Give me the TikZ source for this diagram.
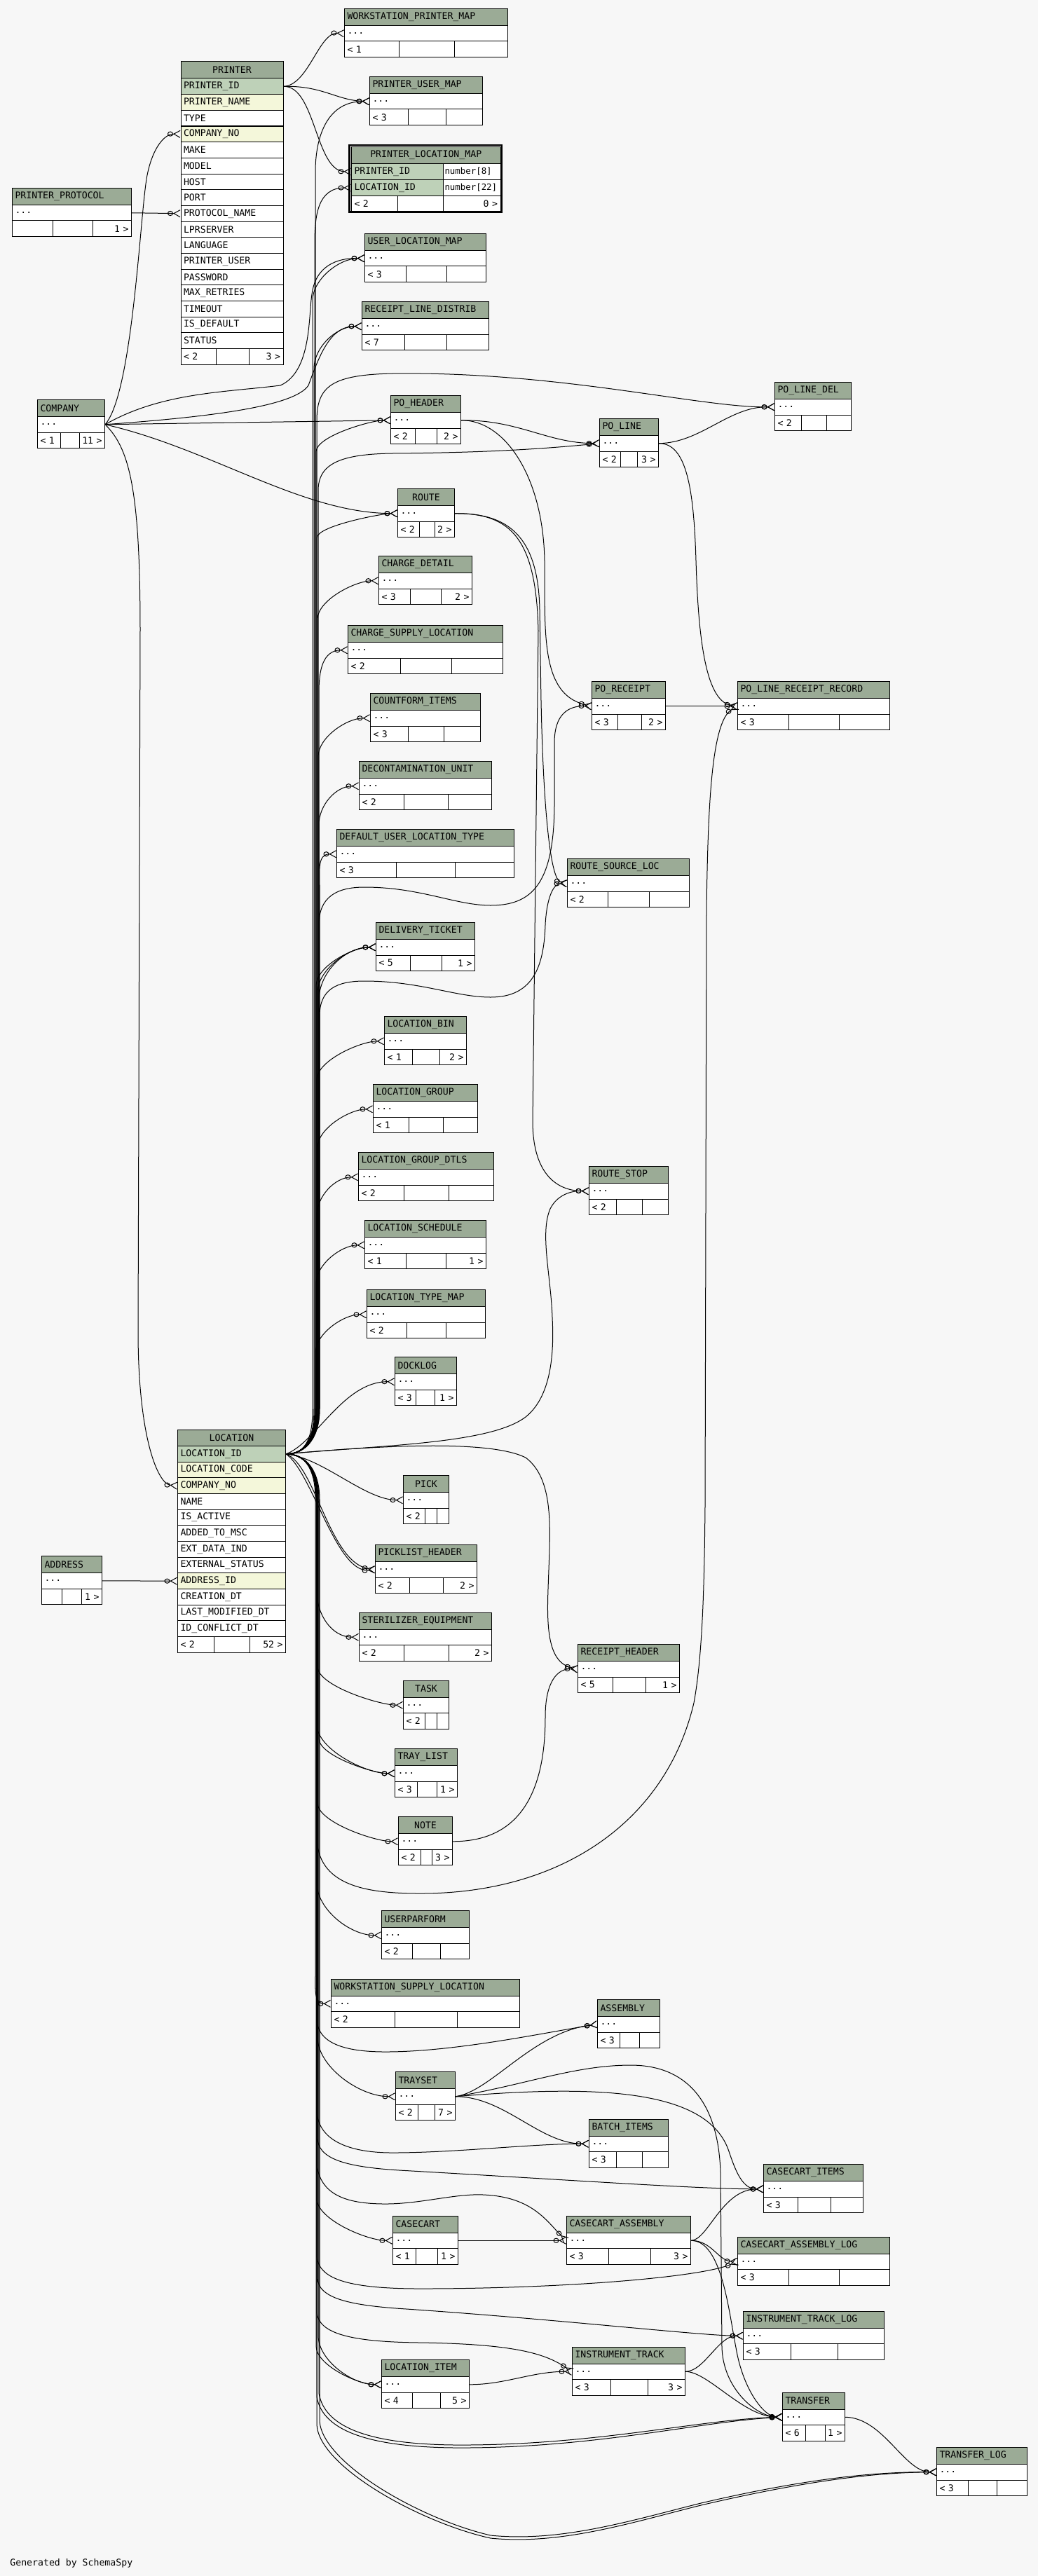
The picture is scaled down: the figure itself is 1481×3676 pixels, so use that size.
\documentclass[tikz,border=0pt]{standalone}
\usepackage{fontspec}
\setmainfont{DejaVu Sans Mono}
\usetikzlibrary{arrows.meta,calc}

\definecolor{hdr}{HTML}{9BAB96}
\definecolor{pk}{HTML}{BED1B8}
\definecolor{idx}{HTML}{F4F7DA}
\definecolor{bg}{HTML}{F7F7F7}

\newcommand\tabfont{\fontsize{6.6}{7.9}\selectfont}

% small table: name, x1, y1, x2, title, parents, children, divider 1, divider 2
\newcommand\maketab[9]{%
  \node[cell, fill=hdr, hw={#4-#2}, minimum height=12pt, ttl] (#1-h) at (#2,#3) {#5};
  \node[cell, fill=white, hw={#4-#2}] (#1) at (#2,#3+24) {...};
  \node[cell, fill=white, hw={#8-#2}] (#1-l) at (#2,#3+46.5) {#6};
  \node[cell, fill=white, hw={#9-#8}] (#1-m) at (#8,#3+46.5) {};
  \node[cell, fill=white, hw={#4-#9}] (#1-r) at (#9,#3+46.5) {\makebox[\linewidth][r]{#7}};
}
\newcommand\tabl{\tikzset{ttl/.style={align=left}}\maketab}
\newcommand\tablc{\tikzset{ttl/.style={align=center}}\maketab}

% LOCATION_ID up / down the bundle
\newcommand\upedge[3]{\draw[rel] (loc-1.east) .. controls +(30,0) and +(0,40) .. (#2,2010)
  -- ($(#2,0 |- #1.west)+(0,#3)$) .. controls +(0,-0.5*#3) and +(-0.6*#3,0) .. (#1.west);}
\newcommand\downedge[3]{\draw[rel] (loc-1.east) .. controls +(30,0) and +(0,-40) .. (#2,2140)
  -- ($(#2,0 |- #1.west)+(0,-#3)$) .. controls +(0,0.5*#3) and +(-0.6*#3,0) .. (#1.west);}

\begin{document}
\begin{tikzpicture}[
    x=0.5pt, y=-0.5pt,
    cell/.style={draw, line width=0.5pt, anchor=north west, inner xsep=2pt,
                 inner ysep=0pt, minimum height=11.25pt, font=\tabfont, align=left},
    hw/.style={minimum width={(#1)*0.5pt}, text width={(#1)*0.5pt-4pt}},
    typecell/.style={cell, fill=white, inner xsep=1pt, minimum width=40.75pt,
                     text width=38.75pt, font=\fontsize{6.2}{7}\selectfont},
    rel/.style={line width=0.5pt,
                -{Circle[open,length=4pt,width=3.6pt] Straight Barb[reversed,length=4.5pt,width=5pt]}}
  ]
  \fill[bg] (0,0) rectangle (1481,3676);
  \useasboundingbox (0,0) rectangle (1481,3676);

  % PRINTER
  \node[cell, fill=hdr, hw=146, minimum height=12pt, align=center] (prt-h) at (257.5,87.5) {PRINTER};
  \foreach \col/\fil [count=\i] in {PRINTER\_ID/pk, PRINTER\_NAME/idx, TYPE/white, COMPANY\_NO/idx,
      MAKE/white, MODEL/white, HOST/white, PORT/white, PROTOCOL\_NAME/white, LPRSERVER/white,
      LANGUAGE/white, PRINTER\_USER/white, PASSWORD/white, MAX\_RETRIES/white, TIMEOUT/white,
      IS\_DEFAULT/white, STATUS/white}
    \node[cell, fill=\fil, hw=146, minimum height=11.33pt] (prt-\i) at (257.5,{111.5+(\i-1)*22.67}) {\col};
  \node[cell, fill=white, hw=50.5, minimum height=11.33pt] (prt-l) at (257.5,496.9) {< 2};
  \node[cell, fill=white, hw=47, minimum height=11.33pt] (prt-m) at (308,496.9) {};
  \node[cell, fill=white, hw=48.5, minimum height=11.33pt, align=right] (prt-r) at (355,496.9) {3 >};

  % LOCATION
  \node[cell, fill=hdr, hw=154, minimum height=11.75pt, align=center] (loc-h) at (253,2039.5) {LOCATION};
  \foreach \col/\fil [count=\i] in {LOCATION\_ID/pk, LOCATION\_CODE/idx, COMPANY\_NO/idx, NAME/white,
      IS\_ACTIVE/white, ADDED\_TO\_MSC/white, EXT\_DATA\_IND/white, EXTERNAL\_STATUS/white,
      ADDRESS\_ID/idx, CREATION\_DT/white, LAST\_MODIFIED\_DT/white, ID\_CONFLICT\_DT/white}
    \node[cell, fill=\fil, hw=154, minimum height=11.33pt] (loc-\i) at (253,{2063+(\i-1)*22.67}) {\col};
  \node[cell, fill=white, hw=52, minimum height=11.33pt] (loc-l) at (253,2335) {< 2};
  \node[cell, fill=white, hw=51, minimum height=11.33pt] (loc-m) at (305,2335) {};
  \node[cell, fill=white, hw=51, minimum height=11.33pt, align=right] (loc-r) at (356,2335) {52 >};

  % PRINTER_LOCATION_MAP
  \draw[line width=1.2pt] (498.5,207) rectangle (716,302.5);
  \node[cell, fill=hdr, hw=212.5, minimum height=12pt, align=center] (plm-h) at (501,209) {PRINTER\_LOCATION\_MAP};
  \node[cell, fill=pk, hw=131, minimum height=11.5pt] (plm-1) at (501,233) {PRINTER\_ID};
  \node[typecell, minimum height=11.5pt] (plm-1t) at (632,233) {number[8]};
  \node[cell, fill=pk, hw=131, minimum height=11.5pt] (plm-2) at (501,256) {LOCATION\_ID};
  \node[typecell, minimum height=11.5pt] (plm-2t) at (632,256) {number[22]};
  \node[cell, fill=white, hw=66, minimum height=11pt] (plm-l) at (501,279) {< 2};
  \node[cell, fill=white, hw=65, minimum height=11pt] (plm-m) at (567,279) {};
  \node[cell, fill=white, hw=81.5, minimum height=11pt, align=right] (plm-r) at (632,279) {0 >};

  % other tables
  \tabl{wpm}{491}{12}{724}{WORKSTATION\_PRINTER\_MAP}{< 1}{}{569}{648}
  \tabl{pum}{527}{109}{688}{PRINTER\_USER\_MAP}{< 3}{}{582}{636}
  \tabl{ulm}{520}{333}{693}{USER\_LOCATION\_MAP}{< 3}{}{579}{637}
  \tabl{rld}{516}{430}{697}{RECEIPT\_LINE\_DISTRIB}{< 7}{}{577}{637}
  \tabl{pp}{17}{268}{187}{PRINTER\_PROTOCOL}{}{1 >}{75}{132}
  \tabl{comp}{53}{570}{149}{COMPANY}{< 1}{11 >}{86}{113}
  \tabl{poh}{557}{564}{657}{PO\_HEADER}{< 2}{2 >}{592}{623}
  \tabl{pol}{855}{597}{939}{PO\_LINE}{< 2}{3 >}{885}{909}
  \tabl{pold}{1105}{545}{1214}{PO\_LINE\_DEL}{< 2}{}{1143}{1179}
  \tablc{route}{567}{697}{648}{ROUTE}{< 2}{2 >}{598}{620}
  \tabl{chd}{540}{793}{673}{CHARGE\_DETAIL}{< 3}{2 >}{585}{629}
  \tabl{csl}{496}{892}{717}{CHARGE\_SUPPLY\_LOCATION}{< 2}{}{571}{644}
  \tabl{cfi}{528}{989}{685}{COUNTFORM\_ITEMS}{< 3}{}{582}{633}
  \tabl{dcu}{512}{1086}{701}{DECONTAMINATION\_UNIT}{< 2}{}{576}{639}
  \tabl{dult}{480}{1183}{733}{DEFAULT\_USER\_LOCATION\_TYPE}{< 3}{}{565}{649}
  \tabl{dtk}{536}{1316}{677}{DELIVERY\_TICKET}{< 5}{1 >}{585}{630}
  \tabl{lbin}{548}{1450}{665}{LOCATION\_BIN}{< 1}{2 >}{588}{627}
  \tabl{lgrp}{532}{1547}{681}{LOCATION\_GROUP}{< 1}{}{583}{632}
  \tabl{lgd}{511}{1644}{704}{LOCATION\_GROUP\_DTLS}{< 2}{}{576}{640}
  \tabl{lsch}{520}{1741}{693}{LOCATION\_SCHEDULE}{< 1}{1 >}{579}{636}
  \tabl{ltm}{523}{1840}{692}{LOCATION\_TYPE\_MAP}{< 2}{}{580}{636}
  \tabl{dock}{563}{1936}{651}{DOCKLOG}{< 3}{1 >}{593}{620}
  \tabl{porc}{844}{972}{949}{PO\_RECEIPT}{< 3}{2 >}{881}{915}
  \tabl{plrr}{1052}{972}{1269}{PO\_LINE\_RECEIPT\_RECORD}{< 3}{}{1125}{1197}
  \tabl{rsl}{809}{1225}{983}{ROUTE\_SOURCE\_LOC}{< 2}{}{867}{926}
  \tabl{rstop}{840}{1664}{953}{ROUTE\_STOP}{< 2}{}{879}{916}
  \tablc{pick}{575}{2105}{640}{PICK}{< 2}{}{606}{623}
  \tabl{plh}{535}{2204}{680}{PICKLIST\_HEADER}{< 2}{2 >}{584}{632}
  \tabl{addr}{59}{2220}{145}{ADDRESS}{}{1 >}{88}{116}
  \tabl{ster}{512}{2300.5}{701}{STERILIZER\_EQUIPMENT}{< 2}{2 >}{576}{640}
  \tabl{rh}{824}{2346}{969}{RECEIPT\_HEADER}{< 5}{1 >}{874}{921}
  \tablc{task}{575}{2397.5}{640}{TASK}{< 2}{}{606}{623}
  \tabl{tray}{563}{2495}{652}{TRAY\_LIST}{< 3}{1 >}{595}{623}
  \tablc{note}{568}{2592}{645}{NOTE}{< 2}{3 >}{600}{616}
  \tabl{upf}{544}{2726}{669}{USERPARFORM}{< 2}{}{588}{628}
  \tabl{wsl}{472}{2823.5}{741}{WORKSTATION\_SUPPLY\_LOCATION}{< 2}{}{563}{652}
  \tabl{asm}{852}{2853}{941}{ASSEMBLY}{< 3}{}{884}{912}
  \tabl{trs}{564}{2956}{649}{TRAYSET}{< 2}{7 >}{596}{620}
  \tabl{bat}{840}{3023.5}{953}{BATCH\_ITEMS}{< 3}{}{879}{916}
  \tabl{cci}{1089}{3088}{1231}{CASECART\_ITEMS}{< 3}{}{1138}{1185}
  \tabl{cc}{560}{3161.5}{653}{CASECART}{< 1}{1 >}{593}{624}
  \tabl{cca}{808}{3161.5}{985}{CASECART\_ASSEMBLY}{< 3}{3 >}{868}{928}
  \tabl{ccal}{1052}{3191.5}{1269}{CASECART\_ASSEMBLY\_LOG}{< 3}{}{1125}{1197}
  \tabl{itl}{1060}{3297.5}{1261}{INSTRUMENT\_TRACK\_LOG}{< 3}{}{1128}{1195}
  \tabl{it}{816}{3348.5}{977}{INSTRUMENT\_TRACK}{< 3}{3 >}{871}{924}
  \tabl{li}{544}{3367}{669}{LOCATION\_ITEM}{< 4}{5 >}{588}{628}
  \tabl{tr}{1116}{3413.5}{1205}{TRANSFER}{< 6}{1 >}{1149}{1177}
  \tabl{trl}{1336}{3492}{1465}{TRANSFER\_LOG}{< 3}{}{1381}{1422}

  \node[font=\tabfont, anchor=west, inner sep=0pt] (gen) at (14,3658) {Generated by SchemaSpy};

  % PRINTER, PRINTER_PROTOCOL, ADDRESS
  \draw[rel] (prt-1.east) .. controls (440,122) and (455,46) .. (wpm.west);
  \draw[rel] (prt-1.east) .. controls (460,122) and (480,143) .. (pum.west);
  \draw[rel] (prt-1.east) .. controls (450,122) and (450,244) .. (plm-1.west);
  \draw[rel] (pp.east) -- (prt-9.west);
  \draw[rel] (addr.east) -- (loc-9.west);

  % COMPANY
  \draw[rel] (comp.east) .. controls (190,560) and (200,300) .. (210,250) .. controls (218,210) and (235,191) .. (prt-4.west);
  \draw[rel] (comp.east) .. controls (185,640) and (200,700) .. (200,900) -- (197,1900) .. controls (197,2050) and (225,2118) .. (loc-3.west);
  \draw[rel] (comp.east) -- (poh.west);
  \draw[rel] (comp.east) .. controls (300,640) and (430,732) .. (route.west);
  \draw[rel] (comp.east) .. controls (230,560) and (320,560) .. (400,550) .. controls (445,530) and (440,450) .. (445,420) .. controls (450,380) and (480,368) .. (ulm.west);
  \draw[rel] (comp.east) .. controls (300,595) and (420,580) .. (440,550) .. controls (455,510) and (470,465) .. (rld.west);

  % LOCATION, upwards
  \upedge{pum}{450}{100}
  \upedge{plm-2}{449}{80}
  \upedge{ulm}{446}{60}
  \upedge{rld}{448}{60}
  \upedge{poh}{451}{45}
  \upedge{route}{452}{35}
  \upedge{chd}{453}{55}
  \upedge{csl}{455}{60}
  \upedge{cfi}{454}{55}
  \upedge{dcu}{455}{55}
  \upedge{dult}{456}{45}
  \upedge{dtk}{451}{55}
  \upedge{dtk}{453}{65}
  \upedge{dtk}{455}{75}
  \upedge{lbin}{452}{55}
  \upedge{lgrp}{453}{55}
  \upedge{lgd}{452}{55}
  \upedge{lsch}{451}{55}
  \upedge{ltm}{450}{55}
  \draw[rel] (loc-1.east) .. controls (450,2060) and (490,1971) .. (dock.west);
  \draw[rel] (loc-1.east) .. controls +(30,0) and +(0,40) .. (452,2010) -- (452,600) .. controls (452,550) and (475,535) .. (560,533) .. controls (800,530) and (1000,582) .. (pold.west);
  \draw[rel] (loc-1.east) .. controls +(30,0) and +(0,40) .. (454,2010) -- (454,700) .. controls (454,662) and (485,648) .. (560,647) .. controls (700,646) and (780,640) .. (pol.west);
  \draw[rel] (loc-1.east) .. controls +(30,0) and +(0,40) .. (455,2010) -- (455,1320) .. controls (455,1280) and (480,1266) .. (520,1266) .. controls (600,1266) and (650,1292) .. (700,1292) .. controls (760,1292) and (790,1260) .. (791,1150) -- (791,1060) .. controls (791,1020) and (810,1007) .. (porc.west);
  \draw[rel] (loc-1.east) .. controls +(30,0) and +(0,40) .. (456,2010) -- (456,1450) .. controls (456,1412) and (480,1400) .. (520,1400) .. controls (600,1400) and (650,1423) .. (700,1423) .. controls (760,1423) and (776,1380) .. (778,1320) .. controls (780,1280) and (790,1261) .. (rsl.west);
  \draw[rel] (loc-1.east) .. controls (550,2062) and (700,2060) .. (750,2022) .. controls (790,1990) and (790,1920) .. (788,1880) .. controls (786,1820) and (770,1760) .. (785,1725) .. controls (795,1705) and (815,1699) .. (rstop.west);
  \draw[rel] (loc-1.east) .. controls (550,2062) and (700,2055) .. (750,2080) .. controls (790,2110) and (785,2180) .. (783,2240) .. controls (781,2300) and (775,2370) .. (rh.west);

  % LOCATION, downwards
  \draw[rel] (loc-1.east) .. controls (460,2080) and (520,2140) .. (pick.west);
  \draw[rel] (loc-1.east) .. controls (450,2090) and (470,2230) .. (plh.west);
  \draw[rel] (loc-1.east) .. controls (445,2100) and (480,2245) .. (plh.west);
  \downedge{ster}{452}{65}
  \downedge{task}{453}{55}
  \downedge{tray}{452}{70}
  \downedge{tray}{455}{50}
  \downedge{note}{453}{55}
  \downedge{upf}{452}{75}
  \downedge{wsl}{450}{40}
  \downedge{trs}{453}{85}
  \downedge{cc}{452}{60}
  \downedge{li}{451}{55}
  \downedge{li}{454}{70}
  \draw[rel] (loc-1.east) .. controls +(30,0) and +(0,-40) .. (452,2140) -- (452,2620) .. controls (452,2690) and (520,2702) .. (600,2702) .. controls (800,2702) and (950,2600) .. (990,2430) .. controls (1003,2360) and (1005,2250) .. (1006,2150) -- (1008,1300) .. controls (1010,1150) and (1015,1030) .. (plrr.west);
  \draw[rel] (loc-1.east) .. controls +(30,0) and +(0,-40) .. (452,2140) -- (452,2880) .. controls (452,2915) and (490,2928) .. (550,2928) .. controls (650,2928) and (780,2900) .. (asm.west);
  \draw[rel] (loc-1.east) .. controls +(30,0) and +(0,-40) .. (452,2140) -- (452,3010) .. controls (452,3050) and (490,3072) .. (560,3072) .. controls (650,3072) and (760,3059) .. (bat.west);
  \draw[rel] (loc-1.east) .. controls +(30,0) and +(0,-40) .. (453,2140) -- (453,3050) .. controls (453,3080) and (490,3092) .. (570,3097) .. controls (800,3110) and (1000,3124) .. (cci.west);
  \draw[rel] (loc-1.east) .. controls +(30,0) and +(0,-40) .. (452,2140) -- (452,3090) .. controls (458,3130) and (490,3145) .. (550,3145) .. controls (600,3145) and (650,3130) .. (690,3132) .. controls (760,3135) and (780,3170) .. (cca.west);
  \draw[rel] (loc-1.east) .. controls +(30,0) and +(0,-40) .. (452,2140) -- (452,3220) .. controls (455,3250) and (490,3266) .. (600,3266) .. controls (800,3266) and (1000,3250) .. (ccal.west);
  \draw[rel] (loc-1.east) .. controls +(30,0) and +(0,-40) .. (453,2140) -- (453,3250) .. controls (453,3280) and (500,3290) .. (580,3295) .. controls (800,3310) and (1000,3333) .. (itl.west);
  \draw[rel] (loc-1.east) .. controls +(30,0) and +(0,-40) .. (452,2140) -- (452,3300) .. controls (455,3330) and (500,3342) .. (600,3343) .. controls (740,3345) and (780,3360) .. (it.west);
  \draw[rel] (loc-1.east) .. controls +(30,0) and +(0,-40) .. (452,2140) -- (452,3420) .. controls (460,3470) and (530,3492) .. (650,3493) .. controls (850,3494) and (1000,3455) .. (tr.west);
  \draw[rel] (loc-1.east) .. controls +(30,0) and +(0,-40) .. (455,2140) -- (455,3415) .. controls (463,3465) and (530,3488) .. (650,3489) .. controls (850,3490) and (1000,3452) .. (tr.west);
  \draw[rel] (loc-1.east) .. controls +(30,0) and +(0,-40) .. (452,2140) -- (452,3460) .. controls (455,3520) and (600,3600) .. (700,3622) .. controls (800,3632) and (900,3600) .. (1000,3575) .. controls (1150,3540) and (1250,3528) .. (trl.west);
  \draw[rel] (loc-1.east) .. controls +(30,0) and +(0,-40) .. (456,2140) -- (456,3455) .. controls (460,3515) and (600,3595) .. (700,3618) .. controls (800,3628) and (900,3597) .. (1000,3572) .. controls (1150,3537) and (1250,3527) .. (trl.west);

  % PO tables, ROUTE, NOTE
  \draw[rel] (poh.east) .. controls (740,599) and (780,632) .. (pol.west);
  \draw[rel] (poh.east) .. controls (720,599) and (775,680) .. (777,800) .. controls (778,900) and (770,990) .. (porc.west);
  \draw[rel] (pol.east) .. controls (1000,632) and (1040,580) .. (pold.west);
  \draw[rel] (pol.east) .. controls (980,632) and (990,700) .. (993,800) .. controls (996,900) and (1005,1000) .. (plrr.west);
  \draw[rel] (porc.east) -- (plrr.west);
  \draw[rel] (route.east) .. controls (720,732) and (768,760) .. (770,870) -- (772,1000) .. controls (775,1150) and (785,1255) .. (rsl.west);
  \draw[rel] (route.east) .. controls (730,732) and (765,770) .. (768,900) -- (760,1600) .. controls (760,1670) and (790,1699) .. (rstop.west);
  \draw[rel] (note.east) .. controls (740,2628) and (778,2560) .. (778,2450) .. controls (778,2400) and (795,2381) .. (rh.west);

  % TRAYSET, CASECART, INSTRUMENT_TRACK, TRANSFER
  \draw[rel] (trs.east) .. controls (700,2985) and (760,2900) .. (asm.west);
  \draw[rel] (trs.east) .. controls (720,2992) and (770,3059) .. (bat.west);
  \draw[rel] (trs.east) .. controls (850,2975) and (1010,2980) .. (1040,3070) .. controls (1050,3100) and (1060,3124) .. (cci.west);
  \draw[rel] (trs.east) .. controls (750,2975) and (820,2947) .. (900,2947) .. controls (980,2947) and (1025,3000) .. (1028,3100) -- (1030,3350) .. controls (1032,3410) and (1080,3448) .. (tr.west);
  \draw[rel] (cc.east) -- (cca.west);
  \draw[rel] (cca.east) .. controls (1010,3197) and (1030,3124) .. (cci.west);
  \draw[rel] (cca.east) .. controls (1015,3197) and (1025,3226) .. (ccal.west);
  \draw[rel] (cca.east) .. controls (1030,3197) and (1040,3300) .. (1050,3350) .. controls (1060,3410) and (1090,3448) .. (tr.west);
  \draw[rel] (it.east) .. controls (1005,3384) and (1025,3333) .. (itl.west);
  \draw[rel] (it.east) .. controls (1010,3384) and (1060,3448) .. (tr.west);
  \draw[rel] (li.east) .. controls (720,3403) and (760,3384) .. (it.west);
  \draw[rel] (tr.east) .. controls (1260,3450) and (1290,3527) .. (trl.west);
\end{tikzpicture}
\end{document}
